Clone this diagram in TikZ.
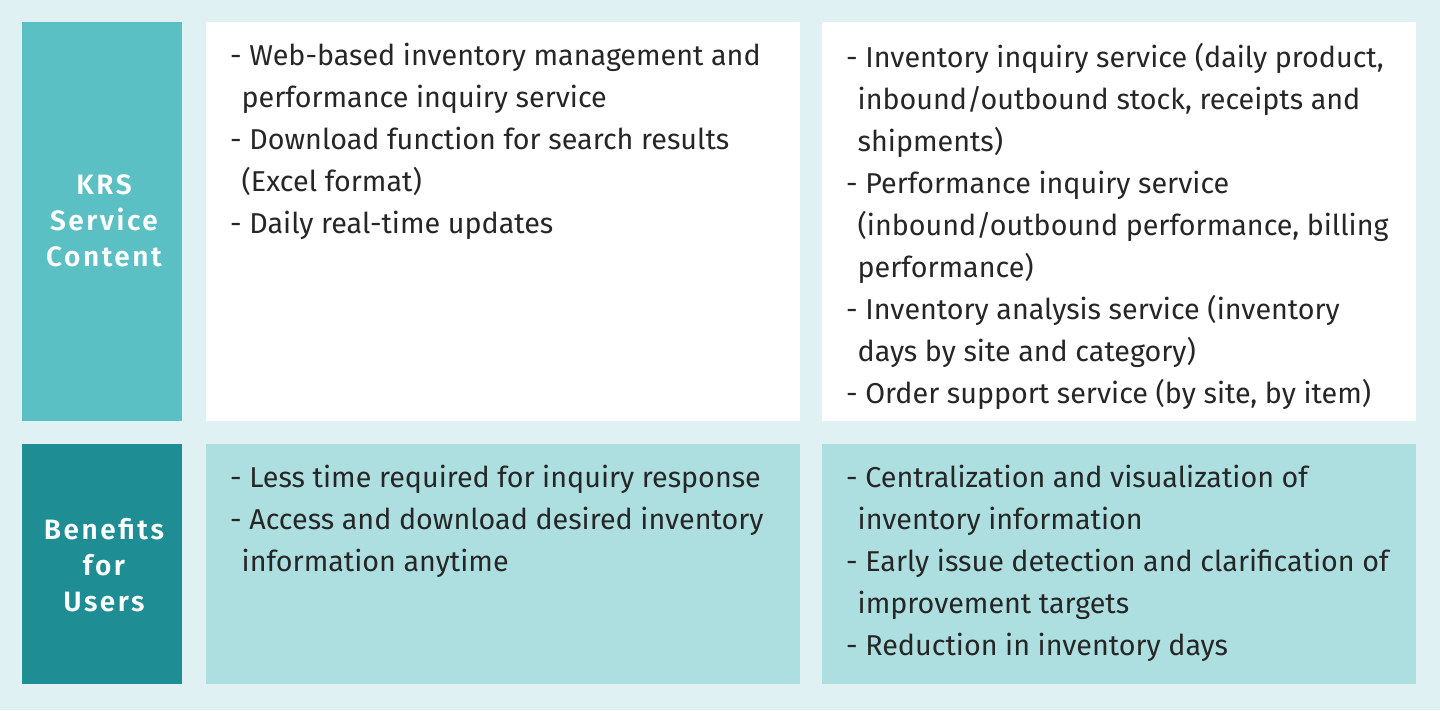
\documentclass[tikz,border=0pt]{standalone}
\usepackage{fontspec}
\setmainfont{Fira Sans}
\newfontfamily\hdrfont[LetterSpace=9]{Fira Sans SemiBold}
\definecolor{bg}{HTML}{DFF1F3}
\definecolor{hA}{HTML}{5BC0C4}
\definecolor{hB}{HTML}{1F8E94}
\definecolor{cB}{HTML}{ADDFE1}
\tikzset{
 hdr/.style={font=\fontsize{28}{36}\hdrfont, text=white, align=center},
 txt/.style={font=\fontsize{28.7}{42}\selectfont, text=black!85, align=left, anchor=north west, inner sep=0pt},
}
\newcommand{\ind}{\hspace*{0.4em}}
\begin{document}
\begin{tikzpicture}[x=1pt,y=-1pt]
\fill[bg] (0,0) rectangle (1440,710);
\fill[hA] (22,22) rectangle (182,421);
\fill[white] (206,22) rectangle (800,421);
\fill[white] (822,22) rectangle (1416,421);
\fill[hB] (22,444) rectangle (182,684);
\fill[cB] (206,444) rectangle (800,684);
\fill[cB] (822,444) rectangle (1416,684);
\node[hdr] (h1) at (104,221) {KRS\\Service\\Content};
\node[hdr] (h2) at (104,565) {Benefits\\for\\Users};
\node[txt] (t1) at (230,43) {- Web-based inventory management and\\\ind performance inquiry service\\- Download function for search results\\\ind(Excel format)\\- Daily real-time updates};
\node[txt] (t2) at (846,43) {- Inventory inquiry service (daily product,\\\ind inbound/outbound stock, receipts and\\\ind shipments)\\- Performance inquiry service\\\ind(inbound/outbound performance, billing\\\ind performance)\\- Inventory analysis service (inventory\\\ind days by site and category)\\- Order support service (by site, by item)};
\node[txt] (t3) at (230,465) {- Less time required for inquiry response\\- Access and download desired inventory\\\ind information anytime};
\node[txt] (t4) at (846,465) {- Centralization and visualization of\\\ind inventory information\\- Early issue detection and clarification of\\\ind improvement targets\\- Reduction in inventory days};
\end{tikzpicture}
\end{document}
